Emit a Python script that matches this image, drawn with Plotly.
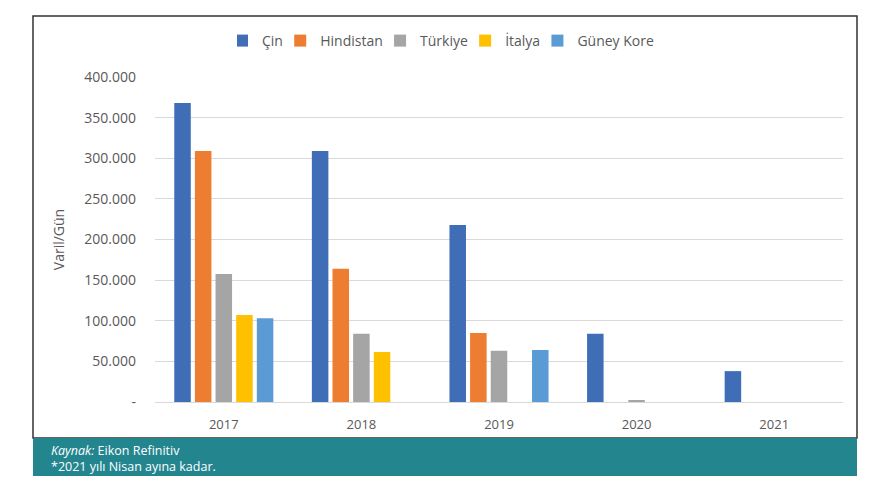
import plotly.graph_objects as go

years = ["2017", "2018", "2019", "2020", "2021"]
series_names = ["Çin", "Hindistan", "Türkiye", "İtalya", "Güney Kore"]
cin = [368000, 309000, 218000, 84000, 38000]
hindistan = [309000, 164000, 85000, None, None]
turkiye = [157500, 84000, 63000, 2000, None]
italya = [107000, 61500, None, None, None]
guney_kore = [103000, None, 64000, None, None]
series_values = [cin, hindistan, turkiye, italya, guney_kore]
colors = ["#3F6EB7", "#ED7D31", "#A5A5A5", "#FFC000", "#5B9BD5"]

y_tickvals = [0, 50000, 100000, 150000, 200000, 250000, 300000, 350000, 400000]
y_ticktext = ["-", "50.000", "100.000", "150.000", "200.000", "250.000", "300.000", "350.000", "400.000"]

# page body has an 8px margin; work in window pixels and shift
O = 8
W, H = 890 - O, 494 - O
L, R, T, B = 155 - O, 843 - O, 77 - O, 402 - O
pw, ph = R - L, B - T

def px(x):
    return (x - O - L) / pw

def py(y):
    return (B - (y - O)) / ph

NBSP = "\u00a0"
fig = go.Figure()
for name, vals, col in zip(series_names, series_values, colors):
    fig.add_trace(go.Bar(x=years, y=vals, name=name + NBSP * 2, marker_color=col,
                         marker_line_width=0))

gray = "#595959"
fig.update_layout(
    width=W, height=H,
    margin=dict(l=L, r=W - R, t=T, b=H - B, pad=0),
    paper_bgcolor="white", plot_bgcolor="white",
    barmode="group", bargap=0.25, bargroupgap=0.2,
    font=dict(family="Open Sans, sans-serif", color=gray, size=13),
    showlegend=True,
    legend=dict(orientation="h", x=px(452), xanchor="center", y=py(41), yanchor="middle",
                font=dict(size=14, color=gray), itemwidth=30, traceorder="normal",
                indentation=-15, tracegroupgap=0),
    xaxis=dict(showgrid=False, showline=True, linecolor="#D9D9D9", linewidth=1,
               ticks="", tickfont=dict(size=13, color=gray), ticklabelstandoff=10),
    yaxis=dict(range=[0, 400000], tickvals=y_tickvals, ticktext=y_ticktext,
               showgrid=True, gridcolor="#D9D9D9", gridwidth=1, zeroline=False,
               showline=False, tickfont=dict(size=14, color=gray), ticklabelstandoff=18,
               title=dict(text="Varil/Gün", font=dict(size=14, color=gray), standoff=16)),
)

shapes = [
    dict(type="rect", xref="paper", yref="paper", x0=px(33), x1=px(857), y0=py(438), y1=py(16),
         line=dict(color="#333333", width=1.5), fillcolor="rgba(0,0,0,0)", layer="below"),
    dict(type="rect", xref="paper", yref="paper", x0=px(33), x1=px(857), y0=py(476), y1=py(438),
         line=dict(width=0), fillcolor="#23868F", layer="above"),
]
fig.update_layout(shapes=shapes)

fig.add_annotation(xref="paper", yref="paper", x=px(49), y=py(458), xanchor="left", yanchor="middle",
                   align="left",
                   text="<i>Kaynak:</i> Eikon Refinitiv<br>*2021 yılı Nisan ayına kadar.",
                   showarrow=False,
                   font=dict(size=12.5, color="white", family="Open Sans, sans-serif"))

fig.write_html("out.html")
